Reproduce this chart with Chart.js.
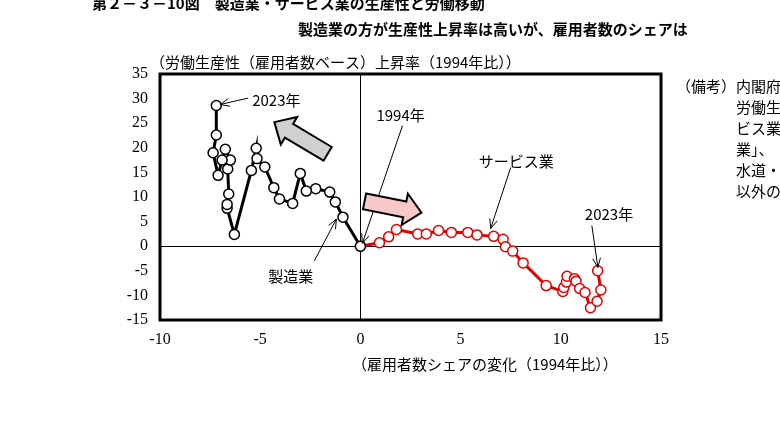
<!DOCTYPE html>
<html><head><meta charset="utf-8">
<script src="https://cdn.jsdelivr.net/npm/chart.js@4"></script>
<style>html,body{margin:0;background:#fff}#c{display:block}</style>
</head><body>
<div style="width:780px;height:432px"><canvas id="c"></canvas></div>
<script>
const mfgX = [0, -0.87, -1.25, -1.53, -2.23, -2.7, -3.0, -3.38, -4.04, -4.32, -4.77, -5.16, -5.2, -5.44, -6.29, -6.65, -6.65, -6.57, -6.62, -6.49, -6.74, -6.9, -7.1, -7.35, -7.19, -7.19];
const mfgY = [0, 5.9, 9.0, 11.0, 11.7, 11.2, 14.8, 8.7, 9.6, 11.9, 16.1, 17.8, 19.9, 15.4, 2.4, 7.7, 8.5, 10.6, 15.7, 17.5, 19.7, 17.5, 14.4, 19.0, 22.6, 28.6];
const svcX = [0, 0.95, 1.41, 1.8, 2.86, 3.29, 3.9, 4.54, 5.36, 5.82, 6.65, 7.12, 7.24, 7.6, 8.12, 9.27, 10.1, 10.15, 10.28, 10.31, 10.68, 10.76, 10.94, 11.21, 11.48, 11.81, 12.0, 11.84];
const svcY = [0, 0.7, 1.9, 3.4, 2.5, 2.5, 3.2, 2.8, 2.8, 2.3, 2.0, 1.4, -0.1, -1.0, -3.4, -8.0, -9.2, -8.4, -7.3, -6.1, -6.6, -7.1, -8.6, -9.4, -12.5, -11.2, -8.9, -5.0];
const xTicks = [-10, -5, 0, 5, 10, 15];
const yTicks = [-15, -10, -5, 0, 5, 10, 15, 20, 25, 30, 35];

const serif = "'Liberation Serif','Noto Sans CJK JP',serif";
const jp = "'Noto Sans CJK JP',sans-serif";

const extras = {
  id: 'extras',
  afterDraw(chart) {
    const { ctx, chartArea: a, scales: { x, y } } = chart;
    ctx.save();
    ctx.strokeStyle = '#000'; ctx.lineWidth = 3;
    ctx.strokeRect(a.left, a.top, a.right - a.left, a.bottom - a.top);
    ctx.fillStyle = '#000';
    ctx.font = 'bold 15px ' + jp;
    ctx.textBaseline = 'middle';
    ctx.fillText('第２－３－10図　製造業・サービス業の生産性と労働移動', 92, 3);
    ctx.fillText('製造業の方が生産性上昇率は高いが、雇用者数のシェアは', 298, 29);
    ctx.font = '15px ' + jp;
    ctx.fillText('（労働生産性（雇用者数ベース）上昇率（1994年比））', 150, 62);
    ctx.fillText('（雇用者数シェアの変化（1994年比））', 352, 364);
    ctx.fillText('（備考）内閣府', 676, 86);
    ['労働生', 'ビス業', '業」、', '水道・', '以外の'].forEach((t, i) => ctx.fillText(t, 736, 107 + i * 21));
    const P = (vx, vy) => [x.getPixelForValue(vx), y.getPixelForValue(vy)];
    const label = (t, vx, vy) => { const [px, py] = P(vx, vy); ctx.fillText(t, px, py); };
    label('2023年', -5.4, 29.6);
    label('1994年', 0.8, 26.7);
    label('サービス業', 5.9, 17.2);
    label('2023年', 11.2, 6.5);
    label('製造業', -4.6, -6.1);
    const arrow = (x1, y1, x2, y2) => {
      const [a1, b1] = P(x1, y1), [a2, b2] = P(x2, y2);
      ctx.beginPath(); ctx.moveTo(a1, b1); ctx.lineTo(a2, b2); ctx.stroke();
      const ang = Math.atan2(b2 - b1, a2 - a1);
      ctx.beginPath();
      ctx.moveTo(a2 - 10 * Math.cos(ang - 0.4), b2 - 10 * Math.sin(ang - 0.4));
      ctx.lineTo(a2, b2);
      ctx.lineTo(a2 - 10 * Math.cos(ang + 0.4), b2 - 10 * Math.sin(ang + 0.4));
      ctx.stroke();
    };
    ctx.lineWidth = 1;
    arrow(-5.6, 30.1, -7.0, 28.8);
    arrow(2.1, 24.5, 0.1, 0.6);
    arrow(7.5, 16.0, 6.5, 3.6);
    arrow(11.55, 4.2, 11.85, -4.3);
    arrow(-2.3, -3.0, -1.2, 5.5);
    const fat = (cx, cy, len, ang, fill) => {
      ctx.save(); ctx.translate(cx, cy); ctx.rotate(ang);
      ctx.beginPath();
      ctx.moveTo(-len / 2, -8); ctx.lineTo(len / 2 - 17, -8); ctx.lineTo(len / 2 - 17, -16);
      ctx.lineTo(len / 2, 0); ctx.lineTo(len / 2 - 17, 16); ctx.lineTo(len / 2 - 17, 8);
      ctx.lineTo(-len / 2, 8); ctx.closePath();
      ctx.fillStyle = fill; ctx.fill(); ctx.lineWidth = 2; ctx.stroke();
      ctx.restore();
    };
    fat(301, 138, 62, Math.atan2(-25, -42), '#d0d0d0');
    fat(393, 207, 58, Math.atan2(10, 50), '#f8c8c8');
    ctx.restore();
  }
};

const pts = (xs, ys) => xs.map((v, i) => ({ x: v, y: ys[i] }));

new Chart(document.getElementById('c'), {
  type: 'scatter',
  data: {
    datasets: [
      { data: pts(mfgX, mfgY), showLine: true, borderColor: '#000', borderWidth: 3,
        pointBackgroundColor: '#fff', pointBorderColor: '#000', pointBorderWidth: 1.5, pointRadius: 5 },
      { data: pts(svcX, svcY), showLine: true, borderColor: '#e00000', borderWidth: 3,
        pointBackgroundColor: '#fff', pointBorderColor: '#e00000', pointBorderWidth: 1.5, pointRadius: 5 }
    ]
  },
  options: {
    responsive: true, maintainAspectRatio: false, animation: false,
    layout: { padding: { top: 74, right: 119, left: 0, bottom: 0 } },
    plugins: { legend: { display: false }, tooltip: { enabled: false } },
    scales: {
      x: {
        type: 'linear', min: -10, max: 15,
        afterBuildTicks: s => { s.ticks = xTicks.map(v => ({ value: v })); },
        afterFit: s => { s.height = 112; },
        grid: { color: c => c.tick && c.tick.value === 0 ? '#000' : 'rgba(0,0,0,0)', drawTicks: false, lineWidth: 1 },
        border: { display: false },
        ticks: { color: '#000', font: { family: serif, size: 16 }, padding: 10 }
      },
      y: {
        type: 'linear', min: -15, max: 35,
        afterBuildTicks: s => { s.ticks = yTicks.map(v => ({ value: v })); },
        afterFit: s => { s.width = 160; },
        grid: { color: c => c.tick && c.tick.value === 0 ? '#000' : 'rgba(0,0,0,0)', drawTicks: false, lineWidth: 1 },
        border: { display: false },
        ticks: { color: '#000', font: { family: serif, size: 16 }, padding: 12 }
      }
    }
  },
  plugins: [extras]
});
</script>
</body></html>
